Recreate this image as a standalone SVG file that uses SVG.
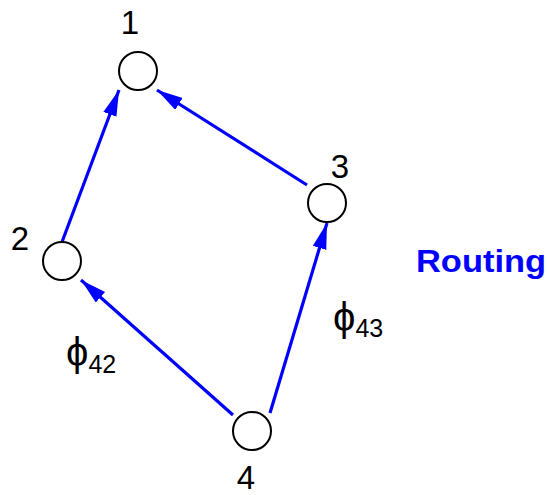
<svg xmlns="http://www.w3.org/2000/svg" width="548" height="495" viewBox="0 0 548 495">
<style>
.node{fill:#fff;stroke:#000;stroke-width:2}
.lbl{font-family:"Liberation Sans",Arial,sans-serif;font-size:33px;fill:#000;text-anchor:middle}
.edge{stroke:#0000ff;stroke-width:3.2;fill:none}
.phi{font-family:"Liberation Sans","DejaVu Sans",sans-serif;font-size:40px;fill:#000}
.sub{font-family:"Liberation Sans",Arial,sans-serif;font-size:25px}
</style>
<defs>
<marker id="ah" markerUnits="userSpaceOnUse" markerWidth="27" markerHeight="16" refX="26" refY="7" orient="auto">
<path d="M0,0 L26,7 L0,14 z" fill="#0000ff"/>
</marker>
</defs>
<g id="connectors">
<line class="edge" x1="62" y1="242" x2="119" y2="90" marker-end="url(#ah)"/>
<line class="edge" x1="307" y1="185" x2="157" y2="90" marker-end="url(#ah)"/>
<line class="edge" x1="233" y1="415" x2="81" y2="280" marker-end="url(#ah)"/>
<line class="edge" x1="270" y1="413" x2="327" y2="223" marker-end="url(#ah)"/>
</g>
<g id="node1"><circle class="node" cx="138" cy="71" r="19"/><text class="lbl" x="130" y="34">1</text></g>
<g id="node2"><circle class="node" cx="62" cy="261" r="19"/><text class="lbl" x="20" y="250">2</text></g>
<g id="node3"><circle class="node" cx="327" cy="203" r="19"/><text class="lbl" x="340" y="178">3</text></g>
<g id="node4"><circle class="node" cx="252" cy="431" r="19"/><text class="lbl" x="246" y="489">4</text></g>
<text x="416" y="272" font-family="'Liberation Sans',Arial,sans-serif" font-weight="bold" font-size="32" fill="#0000ff" textLength="130" lengthAdjust="spacingAndGlyphs">Routing</text>
<text class="phi" x="333" y="331">ϕ<tspan class="sub" dy="6">43</tspan></text>
<text class="phi" x="66" y="366">ϕ<tspan class="sub" dy="7">42</tspan></text>
</svg>
